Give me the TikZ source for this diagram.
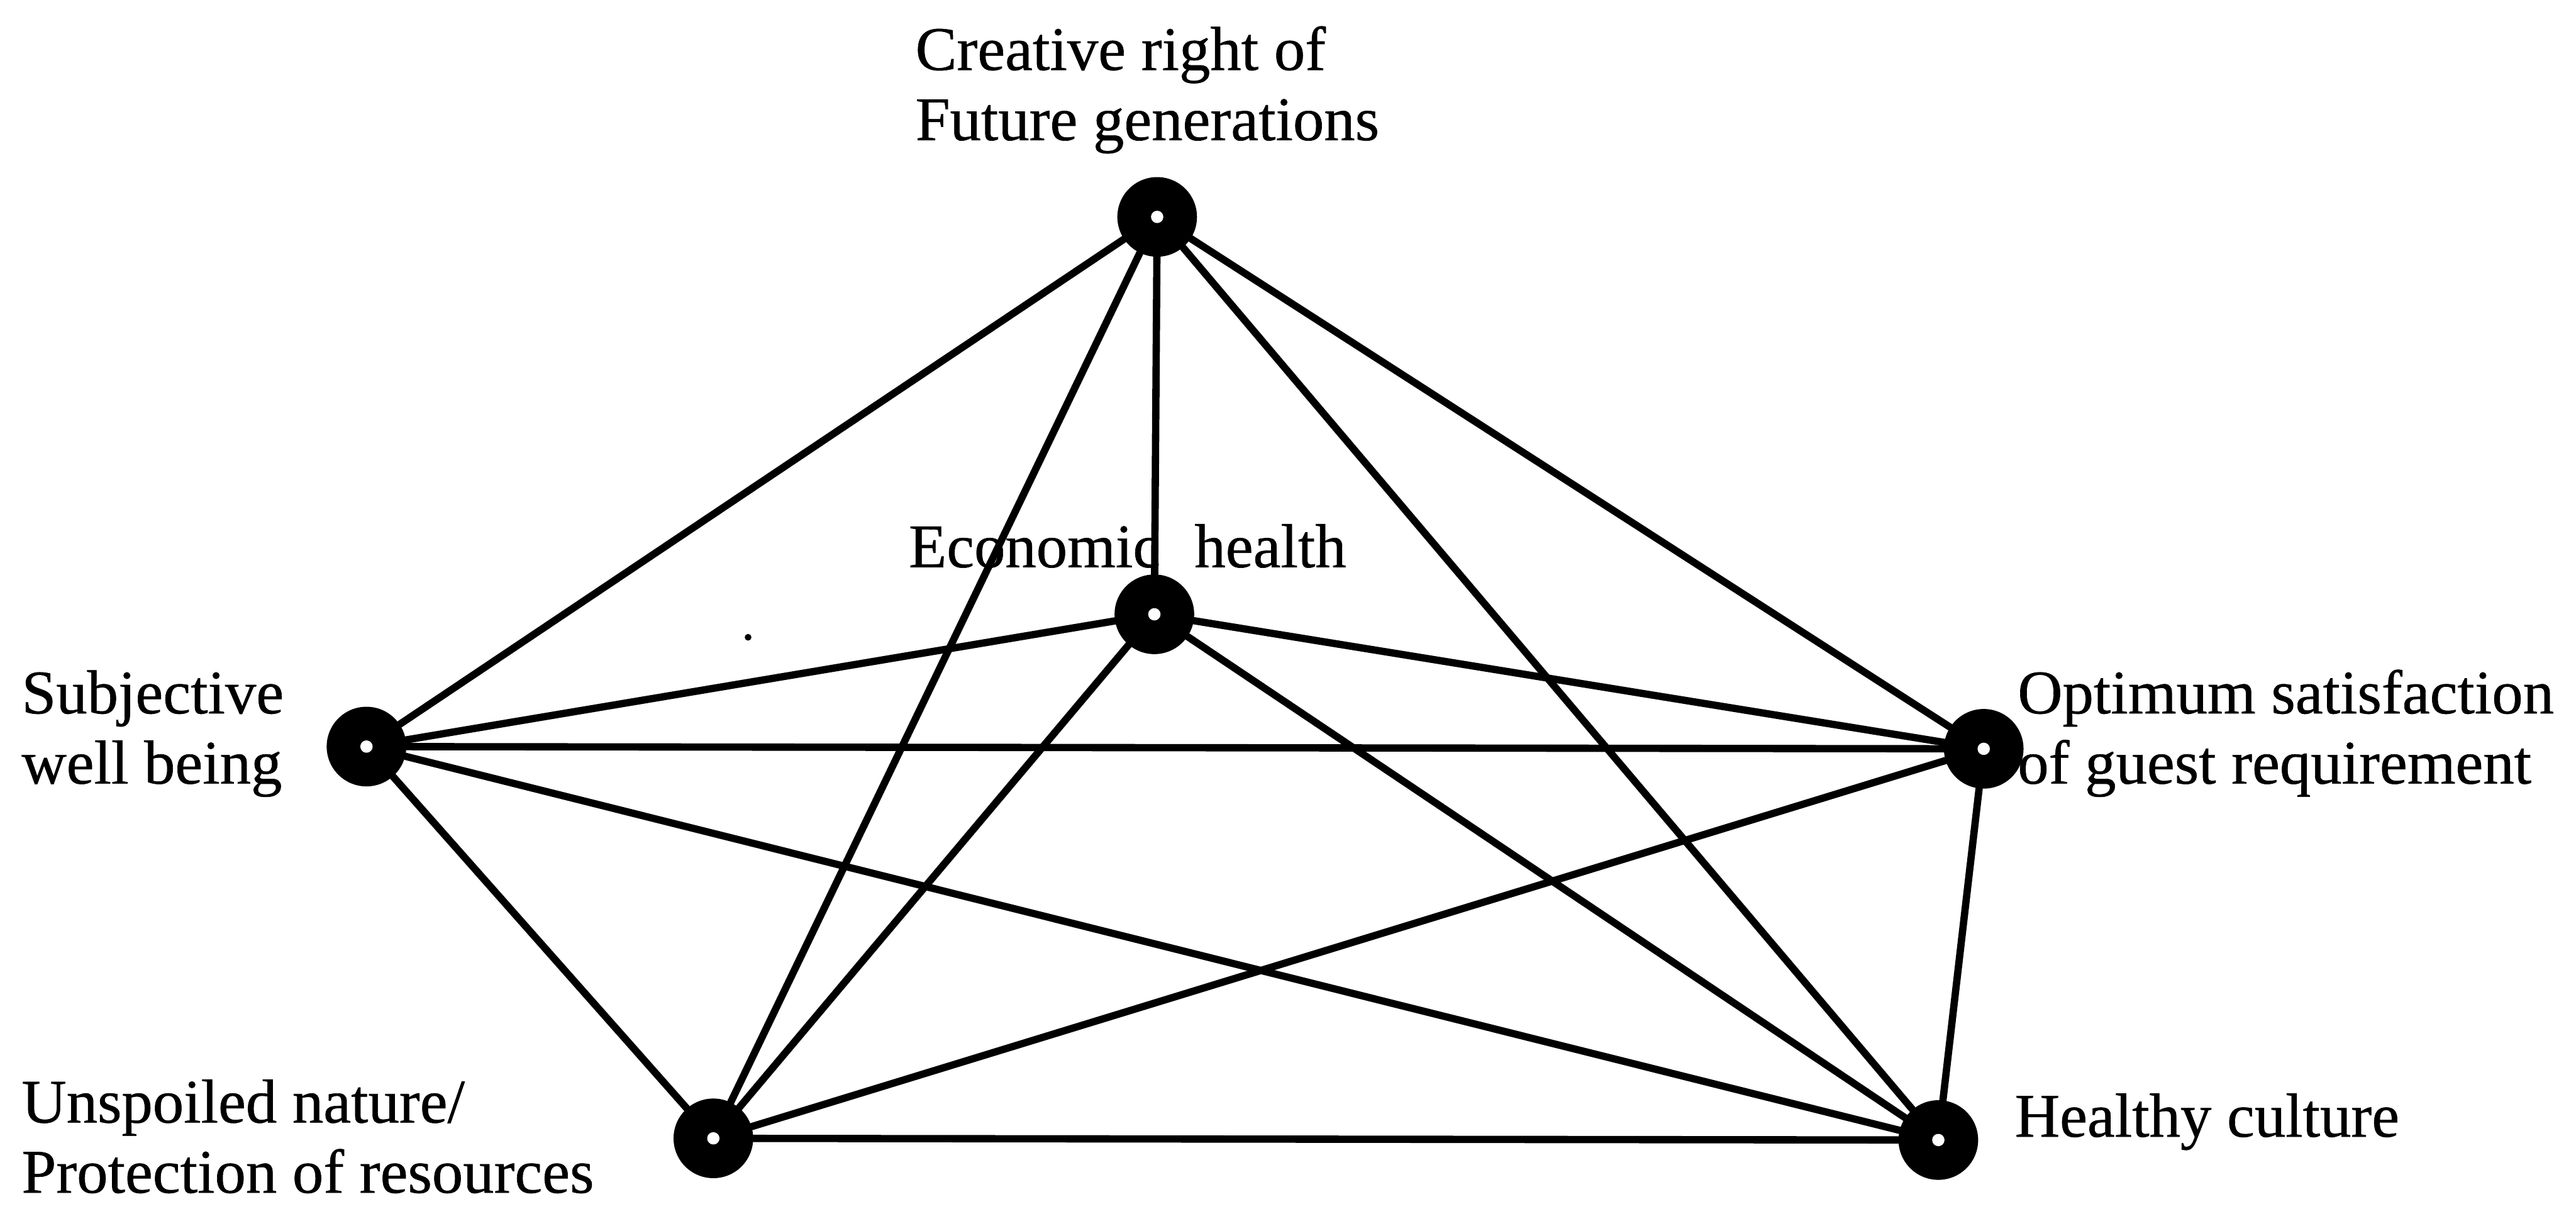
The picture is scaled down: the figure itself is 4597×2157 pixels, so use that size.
\documentclass[tikz,border=0pt]{standalone}
\usepackage{fontspec}
\setmainfont{Liberation Serif}
\newfontfamily\labelfont[FakeBold=0.6]{Liberation Serif}
\begin{document}
\begin{tikzpicture}[x=0.01cm, y=-0.01cm,
  hub/.style={circle, fill=black, inner sep=0pt, minimum size=1.42cm,
    path picture={\fill[white] (path picture bounding box.center) circle (0.11cm);}},
  speck/.style={circle, fill=black, inner sep=0pt, minimum size=0.12cm},
  link/.style={line width=3.7pt, line cap=round},
  label/.style={inner sep=0pt, anchor=base west, align=left,
    font=\labelfont\fontsize{31.5pt}{35.6pt}\selectfont}]
  \useasboundingbox (0,0) rectangle (4597,2157);

  % hubs
  \node[hub] (T) at (2065,387) {};
  \node[hub] (E) at (2060,1096) {};
  \node[hub] (S) at (654,1332) {};
  \node[hub] (O) at (3540,1336) {};
  \node[hub] (U) at (1273,2031) {};
  \node[hub] (H) at (3459,2034) {};
  \node[speck] (dot) at (1335,1137) {};

  % every hub is linked to every other hub
  \foreach \a/\b in {T/E,T/S,T/O,T/U,T/H,
                     E/S,E/O,E/U,E/H,
                     S/O,S/U,S/H,
                     O/U,O/H,
                     U/H}
    \draw[link] (\a) -- (\b);

  % labels (anchored on the baseline of their last line)
  \node[label] (lT) at (1633,250) {Creative right of\\Future generations};
  \node[label] (lE) at (1621,1012) {Economic\hspace{0.3em} health};
  \node[label] (lS) at (38,1398) {Subjective\\well being};
  \node[label] (lO) at (3600,1398) {Optimum satisfaction\\of guest requirement};
  \node[label] (lU) at (38,2128) {Unspoiled nature/\\Protection of resources};
  \node[label] (lH) at (3595,2028) {Healthy culture};
\end{tikzpicture}
\end{document}
